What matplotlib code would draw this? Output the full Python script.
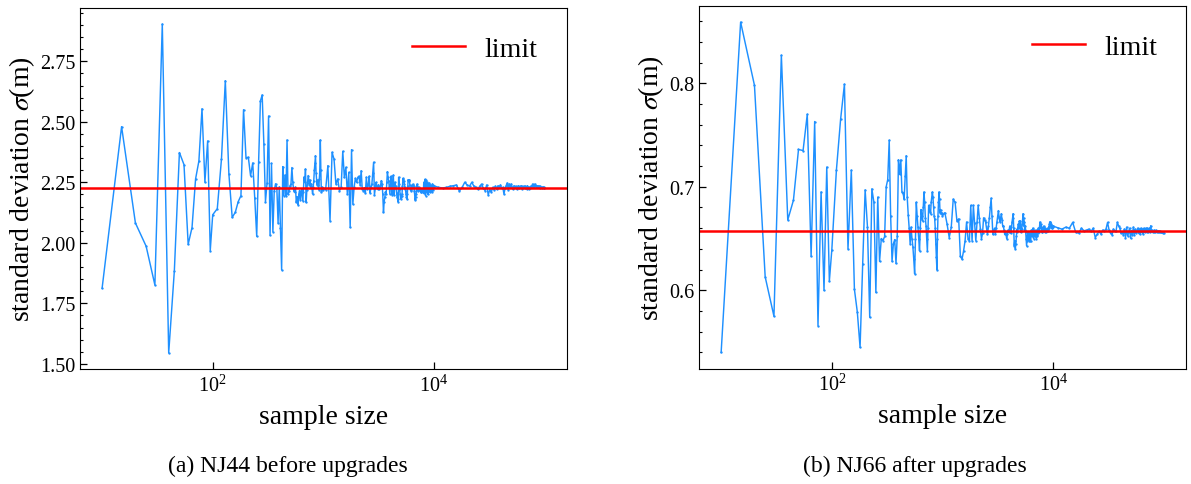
import matplotlib
matplotlib.use("Agg")
import matplotlib.pyplot as plt
from matplotlib.ticker import FixedLocator, NullLocator, LogFormatterMathtext, MultipleLocator

plt.rcParams['font.family'] = ['Liberation Serif', 'DejaVu Serif']
plt.rcParams['mathtext.fontset'] = 'stix'

# ---------------- sample sizes ----------------
n_a = list(range(10, 101, 5))
n_b = list(range(110, 1001, 10))
n_c = list(range(1050, 10001, 50))
n_d = list(range(11000, 100001, 1000))
sample_sizes = n_a + n_b + n_c + n_d

# ---------------- (a) NJ44 before upgrades ----------------
nj44_a = [1.813, 2.480, 2.082, 1.986, 1.826, 2.904, 1.545, 1.885, 2.373, 2.323,
          1.994, 2.063, 2.264, 2.338, 2.554, 2.251, 2.421, 1.968, 2.116]
nj44_b = [2.141, 2.346, 2.670, 2.286, 2.105, 2.126, 2.170, 2.195, 2.550, 2.352,
          2.353, 2.277, 2.330, 2.184, 2.027, 2.333, 2.586, 2.611, 2.410, 2.170,
          2.247, 2.524, 2.032, 2.328, 2.046, 2.215, 2.244, 2.227, 2.082, 2.231,
          2.060, 1.888, 2.315, 2.195, 2.280, 2.195, 2.425, 2.200, 2.214, 2.236,
          2.243, 2.311, 2.250, 2.216, 2.209, 2.230, 2.167, 2.190, 2.158, 2.200,
          2.216, 2.178, 2.205, 2.222, 2.174, 2.210, 2.272, 2.250, 2.305, 2.167,
          2.220, 2.247, 2.278, 2.260, 2.240, 2.258, 2.230, 2.243, 2.225, 2.202,
          2.230, 2.257, 2.300, 2.330, 2.360, 2.290, 2.260, 2.240, 2.258, 2.240,
          2.220, 2.264, 2.300, 2.425, 2.300, 2.209, 2.217, 2.230, 2.220, 2.225]
nj44_c = [2.220, 2.319, 2.091, 2.374, 2.346, 2.243, 2.264, 2.215, 2.230, 2.378,
          2.270, 2.312, 2.202, 2.291, 2.064, 2.385, 2.160, 2.230, 2.266, 2.250,
          2.270, 2.275, 2.240, 2.298, 2.222, 2.216, 2.228, 2.206, 2.271, 2.222,
          2.240, 2.275, 2.206, 2.230, 2.243, 2.290, 2.333, 2.198, 2.225, 2.250,
          2.230, 2.222, 2.240, 2.222, 2.229, 2.240, 2.257, 2.245, 2.200, 2.126,
          2.170, 2.188, 2.210, 2.202, 2.250, 2.294, 2.270, 2.257, 2.230, 2.202,
          2.240, 2.275, 2.230, 2.198, 2.250, 2.280, 2.198, 2.225, 2.250, 2.235,
          2.225, 2.205, 2.188, 2.180, 2.170, 2.271, 2.245, 2.222, 2.200, 2.181,
          2.190, 2.195, 2.202, 2.235, 2.266, 2.262, 2.257, 2.245, 2.229, 2.222,
          2.216, 2.200, 2.190, 2.181, 2.200, 2.235, 2.261, 2.255, 2.258, 2.260,
          2.240, 2.225, 2.216, 2.220, 2.222, 2.230, 2.239, 2.236, 2.242, 2.240,
          2.235, 2.229, 2.215, 2.200, 2.178, 2.182, 2.188, 2.200, 2.216, 2.230,
          2.243, 2.235, 2.225, 2.216, 2.222, 2.229, 2.225, 2.220, 2.224, 2.222,
          2.218, 2.211, 2.215, 2.209, 2.216, 2.222, 2.218, 2.212, 2.209, 2.215,
          2.220, 2.250, 2.243, 2.205, 2.236, 2.262, 2.228, 2.195, 2.222, 2.240,
          2.258, 2.216, 2.208, 2.235, 2.250, 2.224, 2.200, 2.230, 2.245, 2.215,
          2.224, 2.247, 2.232, 2.210, 2.224, 2.238, 2.226, 2.215, 2.224, 2.236,
          2.225, 2.212, 2.226, 2.243, 2.238, 2.220, 2.225, 2.232, 2.230, 2.236]
nj44_d = [2.229, 2.227, 2.229, 2.234, 2.236, 2.239, 2.214, 2.229, 2.250, 2.239,
          2.234, 2.250, 2.234, 2.229, 2.222, 2.234, 2.243, 2.225, 2.216, 2.239,
          2.198, 2.220, 2.209, 2.229, 2.220, 2.234, 2.222, 2.236, 2.229, 2.239,
          2.225, 2.229, 2.202, 2.225, 2.236, 2.247, 2.220, 2.243, 2.229, 2.243,
          2.229, 2.222, 2.236, 2.229, 2.234, 2.222, 2.229, 2.236, 2.225, 2.234,
          2.229, 2.236, 2.222, 2.229, 2.234, 2.225, 2.234, 2.229, 2.222, 2.236,
          2.229, 2.222, 2.229, 2.225, 2.234, 2.229, 2.236, 2.243, 2.236, 2.229,
          2.236, 2.243, 2.234, 2.236, 2.229, 2.234, 2.236, 2.229, 2.234, 2.229,
          2.234, 2.225, 2.229, 2.229, 2.225, 2.229, 2.229, 2.227, 2.229, 2.228]
nj44_std = nj44_a + nj44_b + nj44_c + nj44_d
nj44_limit = 2.227

# ---------------- (b) NJ66 after upgrades ----------------
nj66_a = [0.540, 0.859, 0.798, 0.613, 0.575, 0.827, 0.668, 0.687, 0.736, 0.735,
          0.770, 0.633, 0.763, 0.566, 0.695, 0.600, 0.719, 0.609, 0.639]
nj66_b = [0.716, 0.765, 0.799, 0.640, 0.716, 0.601, 0.579, 0.545, 0.625, 0.697,
          0.661, 0.574, 0.698, 0.685, 0.598, 0.690, 0.628, 0.650, 0.648, 0.652,
          0.700, 0.707, 0.745, 0.672, 0.628, 0.645, 0.649, 0.626, 0.652, 0.726,
          0.712, 0.726, 0.695, 0.694, 0.688, 0.710, 0.730, 0.690, 0.673, 0.660,
          0.645, 0.661, 0.650, 0.642, 0.630, 0.616, 0.650, 0.685, 0.672, 0.661,
          0.650, 0.638, 0.660, 0.678, 0.672, 0.667, 0.680, 0.695, 0.685, 0.670,
          0.662, 0.650, 0.638, 0.660, 0.682, 0.678, 0.676, 0.674, 0.685, 0.690,
          0.695, 0.690, 0.680, 0.672, 0.669, 0.660, 0.645, 0.632, 0.620, 0.650,
          0.672, 0.685, 0.695, 0.688, 0.675, 0.678, 0.675, 0.675, 0.674, 0.672]
nj66_c = [0.675, 0.664, 0.651, 0.661, 0.688, 0.685, 0.667, 0.669, 0.633, 0.630,
          0.638, 0.648, 0.666, 0.650, 0.648, 0.682, 0.648, 0.682, 0.665, 0.648,
          0.666, 0.682, 0.670, 0.659, 0.650, 0.655, 0.670, 0.668, 0.666, 0.660,
          0.654, 0.662, 0.670, 0.680, 0.689, 0.672, 0.654, 0.657, 0.660, 0.654,
          0.660, 0.666, 0.672, 0.677, 0.670, 0.666, 0.670, 0.674, 0.668, 0.662,
          0.662, 0.658, 0.654, 0.656, 0.654, 0.650, 0.654, 0.658, 0.656, 0.658,
          0.662, 0.659, 0.655, 0.661, 0.666, 0.670, 0.674, 0.660, 0.643, 0.648,
          0.640, 0.645, 0.652, 0.659, 0.656, 0.661, 0.664, 0.660, 0.667, 0.662,
          0.667, 0.656, 0.660, 0.659, 0.664, 0.668, 0.674, 0.670, 0.662, 0.666,
          0.658, 0.662, 0.656, 0.650, 0.643, 0.648, 0.653, 0.656, 0.650, 0.648,
          0.650, 0.655, 0.648, 0.652, 0.648, 0.654, 0.658, 0.652, 0.656, 0.658,
          0.660, 0.654, 0.650, 0.653, 0.658, 0.655, 0.652, 0.656, 0.658, 0.654,
          0.650, 0.653, 0.656, 0.652, 0.658, 0.655, 0.660, 0.656, 0.658, 0.660,
          0.663, 0.666, 0.662, 0.660, 0.664, 0.661, 0.658, 0.656, 0.659, 0.656,
          0.658, 0.661, 0.659, 0.662, 0.661, 0.657, 0.660, 0.658, 0.656, 0.658,
          0.657, 0.659, 0.658, 0.656, 0.658, 0.657, 0.659, 0.660, 0.658, 0.657,
          0.659, 0.661, 0.660, 0.662, 0.664, 0.666, 0.665, 0.663, 0.666, 0.664,
          0.662, 0.663, 0.661, 0.660, 0.662, 0.661, 0.660, 0.661, 0.662, 0.662]
nj66_d = [0.6604, 0.6591, 0.6610, 0.6600, 0.6656, 0.6559, 0.6553, 0.6600, 0.6575, 0.6582,
          0.6591, 0.6569, 0.6600, 0.6510, 0.6543, 0.6569, 0.6543, 0.6582, 0.6575, 0.6591,
          0.6656, 0.6582, 0.6550, 0.6537, 0.6591, 0.6575, 0.6575, 0.6656, 0.6623, 0.6600,
          0.6550, 0.6559, 0.6537, 0.6591, 0.6510, 0.6610, 0.6527, 0.6559, 0.6600, 0.6504,
          0.6575, 0.6537, 0.6610, 0.6537, 0.6591, 0.6550, 0.6575, 0.6600, 0.6550, 0.6591,
          0.6543, 0.6600, 0.6559, 0.6591, 0.6543, 0.6600, 0.6559, 0.6582, 0.6600, 0.6559,
          0.6600, 0.6559, 0.6582, 0.6600, 0.6559, 0.6623, 0.6575, 0.6582, 0.6559, 0.6575,
          0.6559, 0.6582, 0.6575, 0.6559, 0.6582, 0.6559, 0.6575, 0.6569, 0.6559, 0.6575,
          0.6562, 0.6569, 0.6559, 0.6565, 0.6562, 0.6559, 0.6565, 0.6562, 0.6555, 0.6557]
nj66_std = nj66_a + nj66_b + nj66_c + nj66_d
nj66_limit = 0.657

panels = [
    ("(a) NJ44 before upgrades", nj44_std, nj44_limit, 0.25, 0.05, 288),
    ("(b) NJ66 after upgrades", nj66_std, nj66_limit, 0.1, 0.02, 915),
]

W, H = 1191, 485
fig = plt.figure(figsize=(W / 100, H / 100), dpi=100)
axes_px = [(80, 8.6, 566.6, 370.4), (699, 6.6, 1186, 370.0)]

blue = '#1E90FF'
for (caption, ys, lim, major, minor, cap_x), (x0, y0, x1, y1) in zip(panels, axes_px):
    ax = fig.add_axes([x0 / W, 1 - y1 / H, (x1 - x0) / W, (y1 - y0) / H])
    ax.plot(sample_sizes, ys, color=blue, lw=1.05, marker='o', markersize=1.7,
            markeredgewidth=0)
    ax.axhline(lim, color='red', lw=1.8, label='limit')
    ax.set_xscale('log')
    ax.xaxis.set_major_locator(FixedLocator([1e2, 1e4]))
    ax.xaxis.set_major_formatter(LogFormatterMathtext())
    ax.xaxis.set_minor_locator(NullLocator())
    ax.yaxis.set_major_locator(MultipleLocator(major))
    ax.yaxis.set_minor_locator(MultipleLocator(minor))
    ax.tick_params(which='both', direction='in', labelsize=14.5)
    ax.tick_params(which='major', length=5, width=0.9)
    ax.tick_params(which='minor', length=2.5, width=0.8)
    ax.set_xlabel('sample size', fontsize=20, labelpad=6)
    ax.set_ylabel(r'standard deviation $\sigma$(m)', fontsize=20, labelpad=2)
    ax.legend(loc='upper right', frameon=False, fontsize=20, handlelength=1.9,
              handletextpad=0.7, borderaxespad=0.65)
    fig.text(cap_x / W, 1 - 466 / H, caption, ha='center', va='center',
             fontsize=17)

fig.savefig('out.png', dpi=100)
